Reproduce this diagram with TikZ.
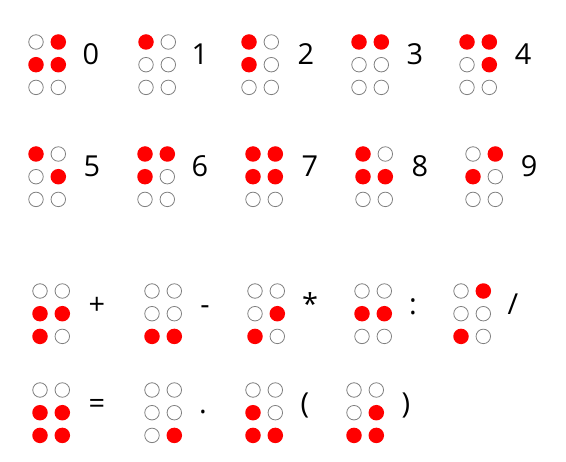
\documentclass[tikz,border=0pt]{standalone}
\usepackage{fontspec}
\setmainfont{Open Sans}
\tikzset{
  raised/.style={circle, fill=red, inner sep=0pt, minimum size=15.5bp},
  flat/.style={circle, draw=gray, line width=0.8bp, inner sep=0pt, minimum size=14.5bp},
  sign/.style={anchor=base, font=\fontsize{29}{29}\selectfont}
}
\newcommand{\braillecell}[4]{%
  \foreach \s [count=\d] in {#4} {
    \pgfmathtruncatemacro{\col}{(\d-1)/3}
    \pgfmathtruncatemacro{\row}{mod(\d-1,3)}
    \node [\s] (#1-\d) at ({#2+22.3*\col},{#3+22.7*\row}) {};
  }%
}
\begin{document}
\begin{tikzpicture}[x=1bp, y=-1bp]
                \useasboundingbox (0,0) rectangle (566,462);
                \braillecell{zero}{36}{42}{flat,raised,flat,raised,raised,flat}
                \braillecell{one}{146}{42}{raised,flat,flat,flat,flat,flat}
                \braillecell{two}{249}{42}{raised,raised,flat,flat,flat,flat}
                \braillecell{three}{359}{42}{raised,flat,flat,raised,flat,flat}
                \braillecell{four}{467}{42}{raised,flat,flat,raised,raised,flat}
                \braillecell{five}{36}{154}{raised,flat,flat,flat,raised,flat}
                \braillecell{six}{145}{154}{raised,raised,flat,raised,flat,flat}
                \braillecell{seven}{253}{154}{raised,raised,flat,raised,raised,flat}
                \braillecell{eight}{363}{154}{raised,raised,flat,flat,raised,flat}
                \braillecell{nine}{473}{154}{flat,raised,flat,raised,flat,flat}
                \braillecell{plus}{40}{291}{flat,raised,raised,flat,raised,flat}
                \braillecell{minus}{152}{291}{flat,flat,raised,flat,flat,raised}
                \braillecell{times}{255}{291}{flat,flat,raised,flat,raised,flat}
                \braillecell{colon}{362}{291}{flat,raised,flat,flat,raised,flat}
                \braillecell{slash}{461}{291}{flat,flat,raised,raised,flat,flat}
                \braillecell{equals}{40}{390}{flat,raised,raised,flat,raised,raised}
                \braillecell{period}{152}{390}{flat,flat,flat,flat,flat,raised}
                \braillecell{lpar}{253}{390}{flat,raised,raised,flat,flat,raised}
                \braillecell{rpar}{354}{390}{flat,flat,raised,flat,raised,raised}
                \node [sign] (zerolab) at (91,65) {0};
                \node [sign] (onelab) at (200,65) {1};
                \node [sign] (twolab) at (306,65) {2};
                \node [sign] (threelab) at (415,65) {3};
                \node [sign] (fourlab) at (523,65) {4};
                \node [sign] (fivelab) at (92,177) {5};
                \node [sign] (sixlab) at (200,177) {6};
                \node [sign] (sevenlab) at (310,177) {7};
                \node [sign] (eightlab) at (420,177) {8};
                \node [sign] (ninelab) at (529,177) {9};
                \node [sign] (pluslab) at (97,314) {+};
                \node [sign] (minuslab) at (205,314) {-};
                \node [sign] (timeslab) at (310,314) {*};
                \node [sign] (colonlab) at (413,314) {:};
                \node [sign] (slashlab) at (513,314) {/};
                \node [sign] (equalslab) at (97,413) {=};
                \node [sign] (periodlab) at (203,413) {.};
                \node [sign] (lparlab) at (305,413) {(};
                \node [sign] (rparlab) at (406,413) {)};
            \end{tikzpicture}
\end{document}
